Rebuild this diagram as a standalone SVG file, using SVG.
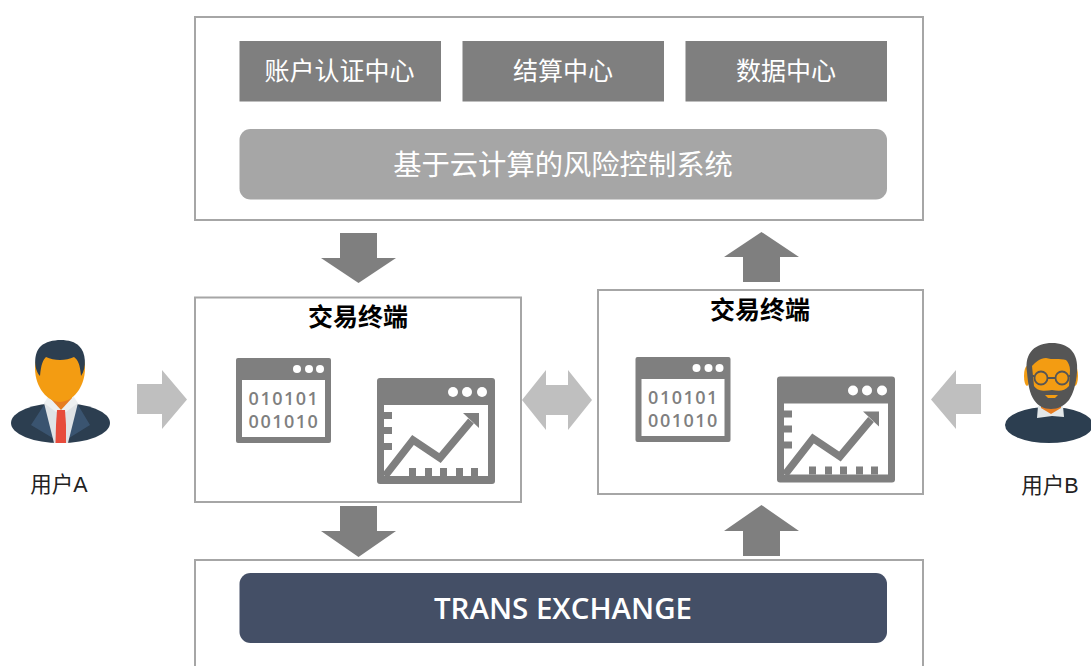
<svg xmlns="http://www.w3.org/2000/svg" width="1091" height="666" viewBox="0 0 1091 666">
<style>
.box{fill:#fff;stroke:#a6a6a6;stroke-width:2}
.dark{fill:#7f7f7f}
.light{fill:#bfbfbf}
.hw{fill:#fff}
text{text-anchor:middle}
.cn{font-family:"Noto Sans CJK SC","Noto Sans",sans-serif}
.tab{font-size:25px;fill:#fff;font-family:"Noto Sans CJK SC",sans-serif}
.title{font-size:25px;font-weight:700;fill:#000;font-family:"Noto Sans CJK SC",sans-serif}
.user{font-size:21.500px;fill:#222;font-family:"Noto Sans CJK SC",sans-serif}
.bin{font-size:18px;font-weight:600;fill:#7f7f7f;font-family:"Open Sans","DejaVu Sans Mono",monospace;letter-spacing:1.500px}
</style>
<defs>
<g id="win1">
<rect x="236" y="358" width="95" height="85" rx="2" class="dark"/>
<rect x="242" y="380" width="83" height="57" class="hw"/>
<circle cx="297" cy="369" r="4" class="hw"/><circle cx="309" cy="369" r="4" class="hw"/><circle cx="320" cy="369" r="4" class="hw"/>
</g>
<g id="win2">
<rect x="377" y="378" width="118" height="106" rx="3" class="dark"/>
<rect x="384" y="405" width="104" height="71" class="hw"/>
<circle cx="453" cy="392" r="5" class="hw"/><circle cx="467" cy="392" r="5" class="hw"/><circle cx="482" cy="392" r="5" class="hw"/>
<path class="dark" d="M384 412h8v7h-8zM384 427h8v7h-8zM384 443h8v7h-8zM409 468h7v8h-7zM425 468h7v8h-7zM440 468h7v8h-7zM456 468h7v8h-7zM471 468h7v8h-7z"/>
<path d="M385 476L413 440L440 458L471 421" fill="none" stroke="#7f7f7f" stroke-width="7.500"/>
<path class="dark" d="M463 413H479V428Z"/>
</g>
</defs>
<rect width="1091" height="666" fill="#fff"/>

<g id="connectors">
<path class="dark" d="M340 233H377V258H396L358.500 283L321 258H340Z"/>
<path class="dark" d="M743 282H780V257H799L761.500 232L724 257H743Z"/>
<path class="dark" d="M340 506H377V531H396L358.500 557L321 531H340Z"/>
<path class="dark" d="M743 556H780V531H799L761.500 505L724 531H743Z"/>
<path class="light" d="M137 384H162V370L187 399.500L162 429V414H137Z"/>
<path class="light" d="M981 384H956V370L931 399.500L956 429V414H981Z"/>
<path class="light" d="M522 400L546 370V385H568V370L592 400L568 430V415H546V430Z"/>
</g>

<g id="platform">
<rect class="box" x="195" y="17" width="728" height="203"/>
</g>
<g id="account-center"><rect x="239.500" y="41" width="201.500" height="60.500" class="dark"/><text class="tab" x="339.500" y="80">账户认证中心</text></g>
<g id="settlement-center"><rect x="462.500" y="41" width="201.500" height="60.500" class="dark"/><text class="tab" x="563" y="80">结算中心</text></g>
<g id="data-center"><rect x="685.500" y="41" width="201.500" height="60.500" class="dark"/><text class="tab" x="786" y="80">数据中心</text></g>
<g id="risk-system"><rect x="239.500" y="129" width="647.500" height="70.500" rx="11" fill="#a6a6a6"/><text x="563" y="175" font-size="28.300" fill="#fff" class="cn">基于云计算的风险控制系统</text></g>

<g id="terminal-a">
<rect class="box" x="195" y="297.500" width="326" height="204.500"/>
<text class="title" x="358" y="326">交易终端</text>
<use href="#win1"/>
<text class="bin" x="284" y="405">010101</text>
<text class="bin" x="284" y="428">001010</text>
<use href="#win2"/>
</g>
<g id="terminal-b">
<rect class="box" x="598" y="290" width="325" height="204"/>
<text class="title" x="760" y="319">交易终端</text>
<use href="#win1" x="399.500" y="-1"/>
<text class="bin" x="683.500" y="404">010101</text>
<text class="bin" x="683.500" y="427">001010</text>
<use href="#win2" x="400" y="-1.500"/>
</g>

<g id="exchange">
<path d="M195 666V560H923V666" fill="#fff" stroke="#a6a6a6" stroke-width="2"/>
<rect x="239.500" y="573" width="647.500" height="70" rx="11" fill="#444f66"/>
<text x="563" y="619" font-size="29.500" font-weight="600" fill="#fff" style="font-family:'Open Sans','Noto Sans',sans-serif">TRANS EXCHANGE</text>
</g>

<g id="user-a">
<ellipse cx="60.500" cy="423" rx="49.500" ry="20" fill="#2c3e50"/>
<path d="M31 425L44 405L61 443ZM90 425L78 405L61 443Z" fill="#3a5470"/>
<path d="M44 403H78L68 443H54Z" fill="#dfe3e6"/>
<path d="M44 403L50 394H72L78 403L66 412H56Z" fill="#edf0f1"/>
<path d="M50 390H72V398L61 410L50 398Z" fill="#e67e22"/>
<path d="M57 410H65L66 425L66 443H55.500L56 425Z" fill="#e74c3c"/>
<path d="M35 368C35 352 46 347 60 347C74 347 85 352 85 368C85 388 72 402 60 402C48 402 35 388 35 368Z" fill="#f39c12"/>
<path d="M40 376C33 368 34 352 41 346C50 338 72 338 79 346C86 352 87 368 81 376C80 364 78 360 74 357C66 361 54 361 46 357C43 360 41 364 40 376Z" fill="#2c3e50"/>
<text x="59" y="492" class="user"><tspan>用户</tspan><tspan style="font-family:'Liberation Sans',sans-serif">A</tspan></text>
</g>

<g id="user-b">
<ellipse cx="1049" cy="425" rx="44" ry="18" fill="#2c3e50"/>
<path d="M1038 406H1063L1064 417L1052 416L1037 418Z" fill="#e3e8ea"/>
<path d="M1041 400H1061V408L1051 414L1041 408Z" fill="#e67e22"/>
<ellipse cx="1027" cy="376" rx="3" ry="10" fill="#f39c12"/>
<ellipse cx="1075" cy="376" rx="3" ry="10" fill="#f39c12"/>
<path d="M1027 372C1024 352 1036 343 1052 343C1068 343 1079 352 1077 372C1076 385 1073 394 1069 400C1064 406 1058 409 1051 409C1044 409 1038 406 1034 400C1030 394 1028 385 1027 372Z" fill="#555"/>
<path d="M1032 366C1036 362 1040 358 1046 358C1052 360 1060 358 1066 360C1068 362 1070 366 1070 370L1069 386C1064 392 1058 391 1052 390C1046 391 1038 392 1034 386Z" fill="#f39c12"/>
<path d="M1045 395H1058L1055 398H1048Z" fill="#f39c12"/>
<g fill="none" stroke="#555" stroke-width="1.800"><circle cx="1041" cy="378" r="6.500"/><circle cx="1062" cy="378" r="6.500"/><path d="M1047 378H1056M1034 376H1030M1068.500 376H1072"/></g>
<text x="1050" y="493" class="user"><tspan>用户</tspan><tspan style="font-family:'Liberation Sans',sans-serif">B</tspan></text>
</g>
</svg>
